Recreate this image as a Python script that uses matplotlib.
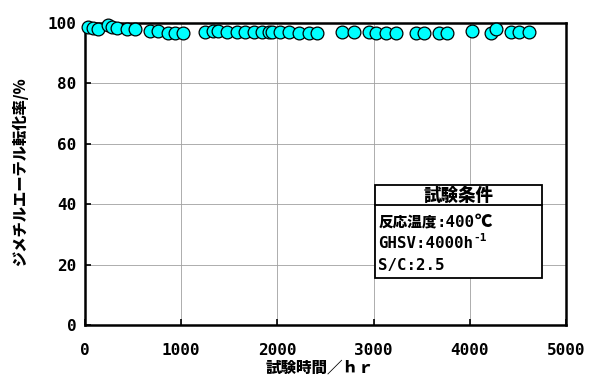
import matplotlib
matplotlib.use("Agg")
import matplotlib.pyplot as plt
from matplotlib.patches import Rectangle

MONO = ['DejaVu Sans Mono', 'Noto Sans CJK JP']
JP = ['Noto Sans CJK JP', 'DejaVu Sans']
plt.rcParams['font.family'] = MONO
plt.rcParams['font.weight'] = 'bold'

# DME conversion vs. test time
hours = [34, 86, 138, 243, 278, 330, 434, 520, 677, 764, 868, 938, 1024,
         1250, 1337, 1389, 1476, 1580, 1667, 1753, 1840, 1910, 1944, 2031,
         2118, 2222, 2326, 2413, 2674, 2795, 2951, 3021, 3125, 3229, 3437,
         3524, 3681, 3767, 4028, 4219, 4271, 4427, 4514, 4618]
conversion = [98.6, 98.4, 98.0, 99.3, 98.6, 98.3, 97.8, 97.8, 97.2, 97.2,
              96.8, 96.8, 96.8, 97.0, 97.3, 97.2, 97.0, 97.0, 97.0, 97.0,
              97.0, 97.0, 97.0, 97.0, 96.9, 96.5, 96.5, 96.5, 97.0, 97.0,
              97.0, 96.8, 96.8, 96.8, 96.7, 96.7, 96.7, 96.8, 97.2, 96.5,
              97.8, 97.0, 97.0, 97.0]

xlabel = "試験時間／ｈｒ"
ylabel = "ジメチルエーテル転化率/%"
conditions_title = "試験条件"
# each line is a list of (text, family, size, rise in px)
conditions = [
    [("反応温度", JP, 10.5, 0), (":400", MONO, 11.3, 0), ("℃", JP, 12.5, 0)],
    [("GHSV:4000h", MONO, 11.3, 0), ("-1", MONO, 8, 7)],
    [("S/C:2.5", MONO, 11.3, 0)],
]

W, H = 589, 387
fig = plt.figure(figsize=(W / 100, H / 100), dpi=100)
ax = fig.add_axes([0.144, 0.160, 0.817, 0.781])

ax.plot(hours, conversion, 'o', color='#00ffff', markeredgecolor='black',
        markeredgewidth=0.9, markersize=9.2, clip_on=False, zorder=5)

ax.set_xlim(0, 5000)
ax.set_ylim(0, 100)
ax.set_xticks(range(0, 5001, 1000))
ax.set_yticks(range(0, 101, 20))
ax.grid(True, color='#a0a0a0', linewidth=0.6)
ax.tick_params(direction='in', length=4, width=1.2, labelsize=11.5)
ax.tick_params(axis='x', pad=13)
ax.tick_params(axis='y', pad=6)
for lab in ax.get_xticklabels() + ax.get_yticklabels():
    lab.set_fontweight('bold')
for sp in ax.spines.values():
    sp.set_linewidth(1.8)

# axis titles, placed in figure pixels
fig.text(320 / W, 1 - 368 / H, xlabel, family=JP, fontsize=11.2, fontweight='heavy',
         ha='center', va='center')
fig.text(20 / W, 1 - 172 / H, ylabel, family=JP, fontsize=11, fontweight='heavy',
         rotation=90, ha='center', va='center')

# condition box
bx0, by0, bx1, by1 = 0.602, 0.155, 0.951, 0.464
ax.add_patch(Rectangle((bx0, by0), bx1 - bx0, by1 - by0, transform=ax.transAxes,
                       facecolor='white', edgecolor='black', linewidth=1.3, zorder=6))
ax.plot([bx0, bx1], [0.397, 0.397], transform=ax.transAxes, color='black',
        linewidth=1.3, zorder=7)
ax.text((bx0 + bx1) / 2, 0.428, conditions_title, transform=ax.transAxes, family=JP,
        ha='center', va='center', fontsize=12.6, fontweight='heavy', zorder=8)

renderer = fig.canvas.get_renderer()
to_axes = ax.transAxes.inverted()
for i, runs in enumerate(conditions):
    x = bx0 + 0.008
    y = 0.325 - i * 0.071
    for s, fam, size, rise in runs:
        t = ax.text(x, y + rise / ax.bbox.height, s, transform=ax.transAxes, family=fam,
                    fontsize=size, fontweight='heavy', ha='left', va='baseline', zorder=8)
        bb = t.get_window_extent(renderer)
        x = to_axes.transform((bb.x1, bb.y0))[0]

fig.savefig("out.png", dpi=100)
